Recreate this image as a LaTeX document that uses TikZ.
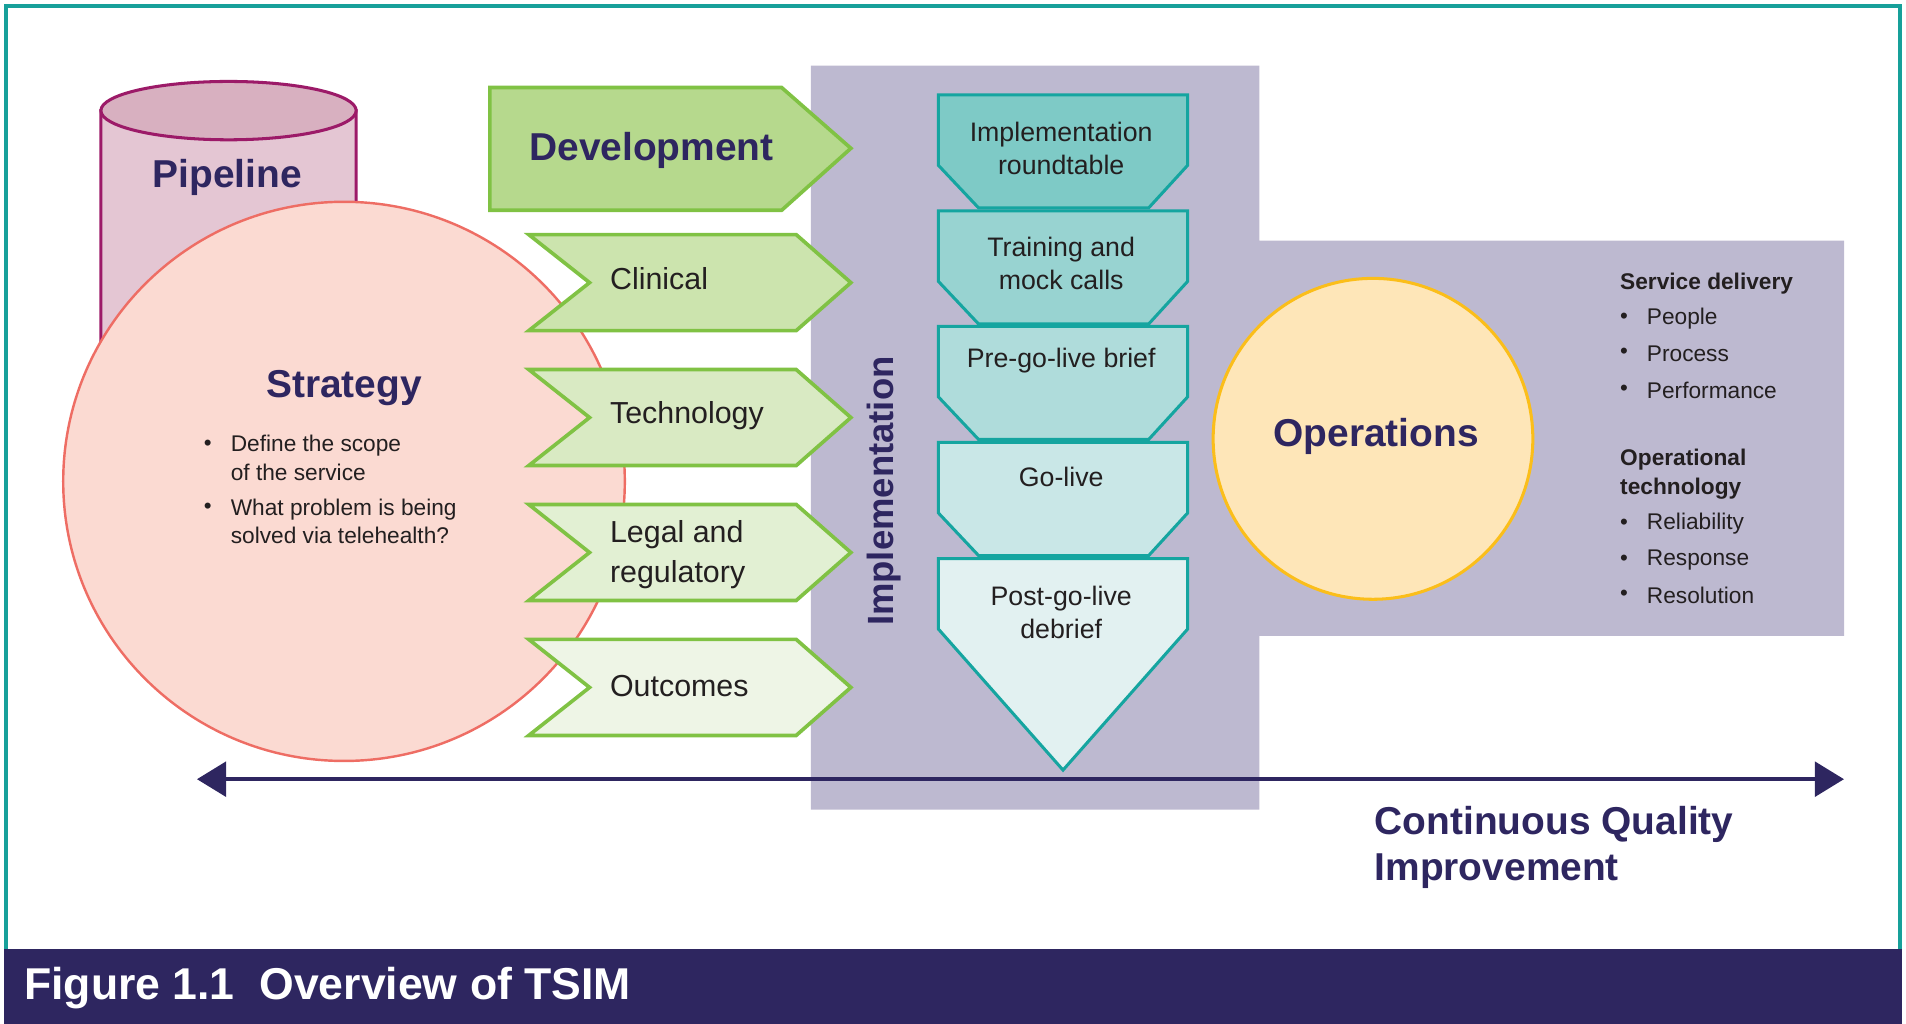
\documentclass[tikz,border=0pt]{standalone}
\usepackage{fontspec}
\setmainfont{Liberation Sans}
\usetikzlibrary{arrows.meta,positioning}
\definecolor{navy}{HTML}{2E2660}
\definecolor{frameteal}{HTML}{17A09A}
\definecolor{panelgray}{HTML}{BDB9D0}
\definecolor{pipebody}{HTML}{E4C6D3}
\definecolor{pipetop}{HTML}{D8B0C0}
\definecolor{pipeline}{HTML}{9C1A68}
\definecolor{stratfill}{HTML}{FBDAD2}
\definecolor{stratline}{HTML}{EE6D64}
\definecolor{leafline}{HTML}{80C244}
\definecolor{devfill}{HTML}{B6D98D}
\definecolor{chevA}{HTML}{CCE4AE}
\definecolor{chevB}{HTML}{D9EAC3}
\definecolor{chevC}{HTML}{E2F0D3}
\definecolor{chevD}{HTML}{EEF5E6}
\definecolor{tealline}{HTML}{15A5A0}
\definecolor{boxA}{HTML}{7ECAC6}
\definecolor{boxB}{HTML}{98D3D1}
\definecolor{boxC}{HTML}{AFDCDB}
\definecolor{boxD}{HTML}{C9E7E7}
\definecolor{boxE}{HTML}{E2F1F1}
\definecolor{opsfill}{HTML}{FEE6B8}
\definecolor{opsline}{HTML}{FBBE1A}
\definecolor{inktext}{HTML}{231F20}
\tikzset{
  bigtitle/.style  = {font=\fontsize{19.2}{23}\selectfont\bfseries, text=navy},
  chevtext/.style  = {font=\fontsize{15}{18.6}\selectfont, anchor=west,
                      align=left, text=inktext},
  steptext/.style  = {font=\fontsize{13.2}{16.2}\selectfont, align=center,
                      text=inktext},
  smalltext/.style = {font=\fontsize{11.2}{14.1}\selectfont, anchor=west,
                      align=left, text=inktext},
  dot/.style       = {font=\fontsize{11}{13}\selectfont, text=inktext},
  chevron/.style   = {draw=leafline, line width=1.8pt},
  funnelbox/.style = {draw=tealline, line width=1.5pt}
}

\begin{document}
\begin{tikzpicture}[x=0.6pt, y=-0.6pt, >=latex]
  \useasboundingbox (0,0) rectangle (1568,842);

  % frame and caption band
  \draw[frameteal, line width=1.8pt] (5,5) rectangle (1563,782);
  \fill[navy] (3,781) rectangle (1565,842);
  \node[anchor=west, text=white, font=\fontsize{22}{26}\selectfont\bfseries]
    (title) at (14,813) {Figure 1.1\ \ Overview of TSIM};

  % pipeline cylinder
  \filldraw[fill=pipebody, draw=pipeline, line width=1.5pt]
    (83,91) -- (83,330) arc[start angle=180, end angle=0, x radius=105, y radius=24]
    -- (293,91) -- cycle;
  \filldraw[fill=pipetop, draw=pipeline, line width=1.5pt]
    (188,91) ellipse[x radius=105, y radius=24];
  \node[bigtitle] (pipe) at (187,146) {Pipeline};

  % strategy circle
  \filldraw[fill=stratfill, draw=stratline, line width=1.2pt]
    (283,396) ellipse[x radius=231, y radius=230];
  \node[bigtitle] (strat) at (283,319) {Strategy};
  \node[dot] (sb1) at (171,366) {\textbullet};
  \node[smalltext] (s1) at (184,376.5) {Define the scope\\of the service};
  \node[dot] (sb2) at (171,418) {\textbullet};
  \node[smalltext] (s2) at (184,429) {What problem is being\\solved via telehealth?};

  % implementation and operations panel
  \fill[panelgray] (667,54) -- (1036,54) -- (1036,198) -- (1517,198)
    -- (1517,523) -- (1036,523) -- (1036,666) -- (667,666) -- cycle;
  \node[rotate=90, text=navy, font=\fontsize{18}{22}\selectfont\bfseries]
    (impl) at (727,404) {Implementation};

  % development and its chevrons
  \filldraw[chevron, fill=devfill]
    (403,72) -- (643,72) -- (700,122) -- (643,173) -- (403,173) -- cycle;
  \node[bigtitle] (dev) at (536,124) {Development};
  \foreach \ytop/\col in {193/chevA, 304/chevB, 415/chevC, 526/chevD}
    \filldraw[chevron, fill=\col] (435,\ytop) -- (655,\ytop) -- (700,\ytop+39.5)
      -- (655,\ytop+79) -- (435,\ytop+79) -- (485,\ytop+39.5) -- cycle;
  \node[chevtext] (clin) at (496,229) {Clinical};
  \node[chevtext] (tech) at (496,342) {Technology};
  \node[chevtext] (legal) at (496,456.5) {Legal and\\[1pt]regulatory};
  \node[chevtext] (outc) at (496,564) {Outcomes};

  % implementation funnel
  \foreach \ytop/\col in {78/boxA, 173.5/boxB, 268.5/boxC, 364/boxD}
    \filldraw[funnelbox, fill=\col] (772,\ytop) -- (977,\ytop) -- (977,\ytop+58)
      -- (945,\ytop+93) -- (805,\ytop+93) -- (772,\ytop+58) -- cycle;
  \filldraw[funnelbox, fill=boxE] (772,459.5) -- (977,459.5) -- (977,517.5)
    -- (874.5,633.5) -- (772,517.5) -- cycle;
  \node[steptext] (round) at (873,122) {Implementation\\roundtable};
  \node[steptext] (train) at (873,217) {Training and\\mock calls};
  \node[steptext] (brief) at (873,297) {Pre-go-live brief};
  \node[steptext] (golive) at (873,392) {Go-live};
  \node[steptext] (debrief) at (873,504) {Post-go-live\\debrief};

  % operations
  \filldraw[fill=opsfill, draw=opsline, line width=1.5pt]
    (1129.5,361) ellipse[x radius=131.5, y radius=132];
  \node[bigtitle] (ops) at (1132,359) {Operations};
  \node[smalltext, font=\fontsize{11.2}{14.1}\selectfont\bfseries]
    (serv) at (1327,233) {Service delivery};
  \node[smalltext, font=\fontsize{11.2}{14.1}\selectfont\bfseries]
    (optech) at (1327,390) {Operational\\technology};
  \foreach \yy/\txt/\nm in {262/People/pp, 291/Process/pr, 321/Performance/pf,
      431/Reliability/rl, 461/Response/rs, 490/Resolution/rv} {
    \node[dot] (b\nm) at (1336,\yy) {\textbullet};
    \node[smalltext] (\nm) at (1349,\yy) {\txt};
  }

  % continuous quality improvement
  \coordinate (cqiL) at (162,641);
  \coordinate (cqiR) at (1517,641);
  \draw[navy, line width=2.2pt, {Triangle[length=14.4pt, width=17pt]}-{Triangle[length=14.4pt, width=17pt]}]
    (cqiL) -- (cqiR);
  \node[bigtitle, anchor=west, align=left, font=\fontsize{19.2}{22.8}\selectfont\bfseries]
    (cqi) at (1125,697) {Continuous Quality\\Improvement};
\end{tikzpicture}
\end{document}
